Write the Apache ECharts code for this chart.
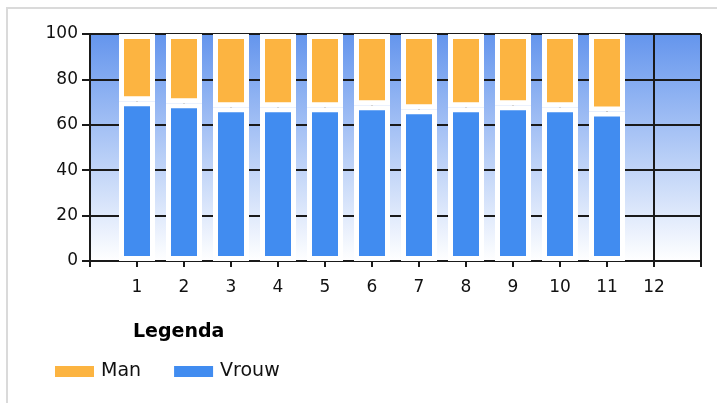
<!DOCTYPE html>
<html>
<head>
<meta charset="utf-8">
<script src="https://cdn.jsdelivr.net/npm/echarts@6/dist/echarts.min.js"></script>
<style>
  html, body { margin: 0; padding: 0; background: #fff; }
  #frame {
    position: absolute; left: 6px; top: 7px; width: 711px; height: 396px;
    border-top: 2px solid #dadada; border-left: 2px solid #dadada;
  }
  #chart { position: absolute; left: 0; top: 0; width: 717px; height: 403px; }
</style>
</head>
<body>
<div id="frame"></div>
<div id="chart"></div>
<script>
// x slots 0..13, labels only shown for 1..12
const slots = ['0', '1', '2', '3', '4', '5', '6', '7', '8', '9', '10', '11', '12', '13']
const xLabels = ['1', '2', '3', '4', '5', '6', '7', '8', '9', '10', '11', '12']
const months = ['1', '2', '3', '4', '5', '6', '7', '8', '9', '10', '11']
const vrouw = [70.4, 69.5, 67.7, 67.7, 67.7, 68.6, 66.8, 67.7, 68.6, 67.7, 65.9]
const man = [29.6, 30.5, 32.3, 32.3, 32.3, 31.4, 33.2, 32.3, 31.4, 32.3, 34.1]

const font = 'DejaVu Sans'
const lineColor = '#1a1a1a'

let barStyle = {
  borderColor: '#ffffff',
  borderWidth: 5,
}

let option = {
  animation: false,
  title: {
    text: 'Legenda',
    left: 133,
    top: 323,
    padding: 0,
    textStyle: { fontFamily: font, fontSize: 19, fontWeight: 'bold', color: '#000' }
  },
  legend: {
    data: ['Man', 'Vrouw'],
    left: 50,
    top: 357,
    icon: 'rect',
    itemWidth: 39,
    itemHeight: 11,
    itemGap: 33,
    itemStyle: { borderWidth: 0 },
    textStyle: { fontFamily: font, fontSize: 19, color: '#111', padding: [0, 0, 0, 2] }
  },
  grid: {
    left: 90,
    right: 16,
    top: 34,
    bottom: 142,
    show: true,
    borderWidth: 0,
    // plot area: cornflower blue fading to white
    backgroundColor: new echarts.graphic.LinearGradient(0, 0, 0, 1, [
      { offset: 0, color: '#6495ED' },
      { offset: 1, color: '#ffffff' }
    ])
  },
  xAxis: {
    type: 'category',
    data: slots,
    boundaryGap: false,
    axisLine: { show: true, lineStyle: { color: lineColor, width: 2 } },
    axisTick: { show: true, interval: 0, length: 6, lineStyle: { color: lineColor, width: 2 } },
    axisLabel: {
      interval: 0,
      margin: 18,
      fontFamily: font,
      fontSize: 17,
      color: '#111',
      formatter: (v) => (xLabels.indexOf(v) >= 0 ? v : '')
    },
    splitLine: { show: true, interval: 0, lineStyle: { color: lineColor, width: 2 } }
  },
  yAxis: {
    type: 'value',
    min: 0,
    max: 100,
    interval: 20,
    axisLine: { show: true, lineStyle: { color: lineColor, width: 2 } },
    axisTick: { show: true, length: 8, lineStyle: { color: lineColor, width: 2 } },
    axisLabel: { margin: 12, fontFamily: font, fontSize: 17, color: '#111' },
    splitLine: { show: true, lineStyle: { color: lineColor, width: 2 } }
  },
  series: [
    {
      name: 'Vrouw',
      type: 'bar',
      stack: 'total',
      barWidth: 36,
      itemStyle: Object.assign({ color: '#418CF0' }, barStyle),
      data: months.map((m, i) => [m, vrouw[i]])
    },
    {
      name: 'Man',
      type: 'bar',
      stack: 'total',
      barWidth: 36,
      itemStyle: Object.assign({ color: '#FCB441' }, barStyle),
      data: months.map((m, i) => [m, man[i]])
    }
  ]
}

var myChart = echarts.init(document.getElementById('chart'))
myChart.setOption(option)
</script>
</body>
</html>
